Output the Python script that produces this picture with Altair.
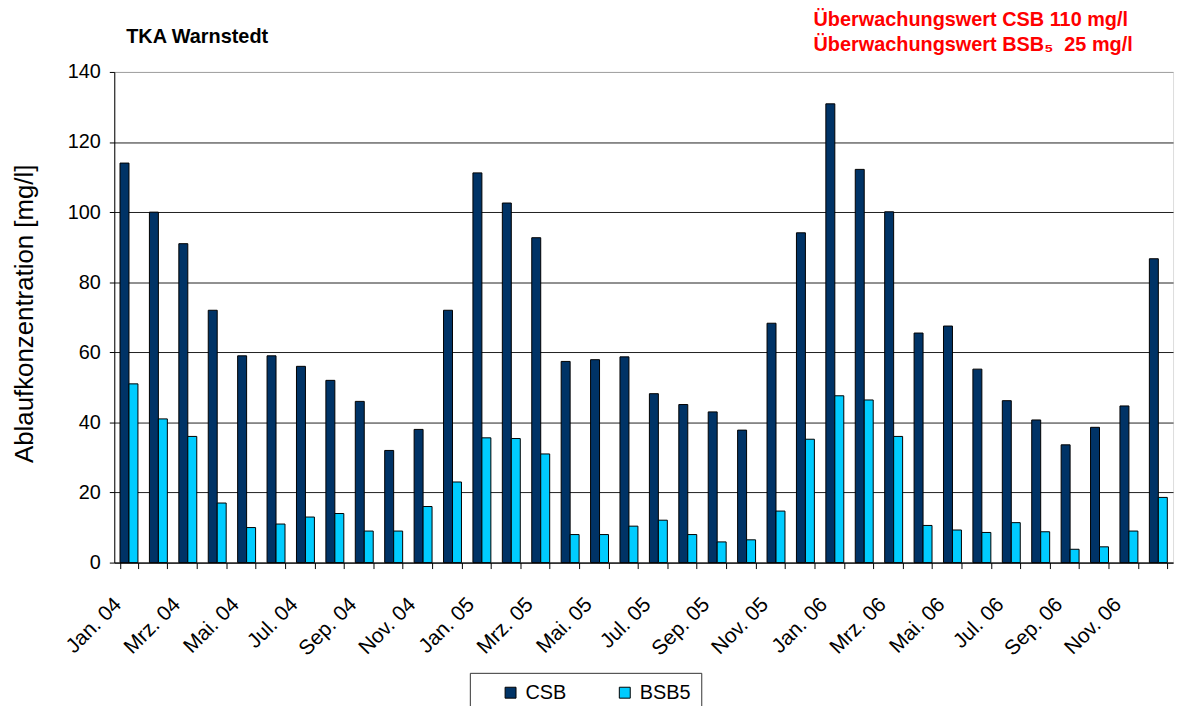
import altair as alt
import pandas as pd

months = [
    "Jan. 04", "Feb. 04", "Mrz. 04", "Apr. 04", "Mai. 04", "Jun. 04",
    "Jul. 04", "Aug. 04", "Sep. 04", "Okt. 04", "Nov. 04", "Dez. 04",
    "Jan. 05", "Feb. 05", "Mrz. 05", "Apr. 05", "Mai. 05", "Jun. 05",
    "Jul. 05", "Aug. 05", "Sep. 05", "Okt. 05", "Nov. 05", "Dez. 05",
    "Jan. 06", "Feb. 06", "Mrz. 06", "Apr. 06", "Mai. 06", "Jun. 06",
    "Jul. 06", "Aug. 06", "Sep. 06", "Okt. 06", "Nov. 06", "Dez. 06",
]
csb = [114, 100, 91, 72, 59, 59, 56, 52, 46, 32, 38, 72,
       111.2, 102.6, 92.7, 57.4, 57.9, 58.7, 48.2, 45.1, 43.0, 37.8, 68.3, 94.1,
       130.9, 112.2, 100.1, 65.5, 67.5, 55.2, 46.2, 40.7, 33.6, 38.6, 44.7, 86.7]
bsb5 = [51, 41, 36, 17, 10, 11, 13, 14, 9, 9, 16, 23,
        35.6, 35.4, 31.0, 8.0, 8.0, 10.4, 12.1, 8.0, 5.9, 6.5, 14.7, 35.2,
        47.6, 46.4, 36.0, 10.6, 9.3, 8.6, 11.4, 8.8, 3.8, 4.5, 9.0, 18.6]
series = ["CSB", "BSB5"]
colors = ["#003366", "#00CCFF"]

title_left = "TKA Warnstedt"
title_red = ["Überwachungswert CSB 110 mg/l", "Überwachungswert BSB₅\u00a0 25 mg/l"]
y_title = "Ablaufkonzentration [mg/l]"

rows = []
for m, c, b in zip(months, csb, bsb5):
    rows.append({"month": m, "series": "CSB", "value": c})
    rows.append({"month": m, "series": "BSB5", "value": b})
df = pd.DataFrame(rows)

FONT = "Liberation Sans"
W, H = 1066, 494

bars = alt.Chart(df).mark_bar(stroke="black", strokeWidth=1).encode(
    x=alt.X("month:N", sort=months, title=None,
            scale=alt.Scale(paddingInner=0.39, paddingOuter=0.195),
            axis=alt.Axis(labelAngle=-45, labelFontSize=21, labelFont=FONT,
                          labelColor="black", tickBand="extent", tickSize=6,
                          tickColor="black", domainColor="black",
                          labelPadding=25, labelOffset=-19,
                          labelAlign="right", labelBaseline="top",
                          labelExpr="test(/^(Jan|Mrz|Mai|Jul|Sep|Nov)/, datum.label) ? datum.label : ''")),
    xOffset=alt.XOffset("series:N", sort=series, scale=alt.Scale(paddingInner=0, paddingOuter=0)),
    y=alt.Y("value:Q", title=y_title,
            scale=alt.Scale(domain=[0, 140], nice=False),
            axis=alt.Axis(values=list(range(0, 141, 20)), labelFontSize=20, labelFont=FONT,
                          labelColor="black", tickColor="black", tickSize=5,
                          labelPadding=9,
                          domainColor="black", grid=True,
                          gridColor={"condition": {"test": "datum.value == 140", "value": "#A0A0A0"}, "value": "#202020"},
                          titleFontSize=26, titleFont=FONT, titleFontWeight="normal",
                          titleColor="black", titleX=-90, titleY=243,
                          titleBaseline="middle", titleAlign="center")),
    color=alt.Color("series:N", sort=series,
                    scale=alt.Scale(domain=series, range=colors),
                    legend=alt.Legend(title=None, orient="none", legendX=358, legendY=605,
                                      direction="horizontal", strokeColor="#333",
                                      fillColor="white", padding=10, symbolOffset=21,
                                      symbolType="square", symbolSize=121,
                                      symbolStrokeColor="black", symbolStrokeWidth=1,
                                      labelFontSize=20, labelFont=FONT, labelColor="black",
                                      columnPadding=27, labelOffset=5)),
)

ann = pd.DataFrame({
    "text": [title_left, title_red[0], title_red[1]],
    "px": [12, 704, 704],
    "py": [-29, -46, -21],
    "size": [20, 20, 20],
    "col": ["black", "#FF0000", "#FF0000"],
})

texts = alt.Chart(ann).mark_text(align="left", baseline="alphabetic", fontWeight="bold", font=FONT).encode(
    x=alt.X("px:Q", scale=None),
    y=alt.Y("py:Q", scale=None),
    text="text:N",
    size=alt.Size("size:Q", scale=None, legend=None),
    color=alt.Color("col:N", scale=None, legend=None),
)

chart = alt.layer(bars, texts).resolve_scale(color="independent", size="independent").properties(
    width=W, height=H,
    autosize=alt.AutoSizeParams(type="none"),
    padding={"left": 107, "top": 62, "right": 6, "bottom": 142},
).configure_view(stroke="#A0A0A0", strokeWidth=1).configure(background="white")

chart.save("out.html", embed_options={"renderer": "svg", "actions": False})
